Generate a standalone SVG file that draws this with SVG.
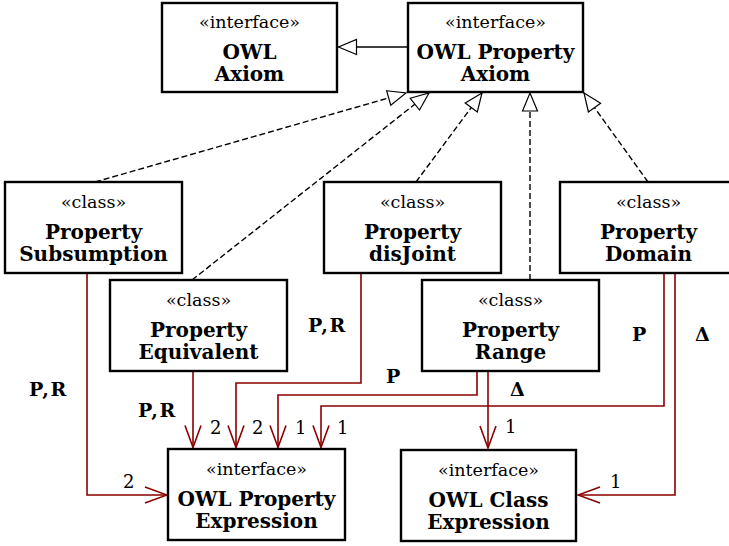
<svg xmlns="http://www.w3.org/2000/svg" width="729" height="546" viewBox="0 0 729 546">
<style>
  .box { fill: #ffffff; stroke: #000000; stroke-width: 2.4; }
  .st { font-family: "DejaVu Serif", "Liberation Serif", serif; font-size: 17.5px; text-anchor: middle; fill: #000; }
  .nm { font-family: "DejaVu Serif", "Liberation Serif", serif; font-size: 20px; font-weight: bold; text-anchor: middle; fill: #000; }
  .lb { font-family: "DejaVu Serif", "Liberation Serif", serif; font-size: 19px; font-weight: bold; letter-spacing: 1.5px; fill: #000; }
  .mu { font-family: "DejaVu Serif", "Liberation Serif", serif; font-size: 18px; fill: #000; }
  .dash { fill: none; stroke: #000; stroke-width: 1.4; stroke-dasharray: 6 3; marker-end: url(#tri); }
  .gen { fill: none; stroke: #000; stroke-width: 1.6; marker-end: url(#tri); }
  .red { fill: none; stroke: #8b0000; stroke-width: 1.6; marker-end: url(#vee); }
</style>
<defs>
  <marker id="tri" markerUnits="userSpaceOnUse" viewBox="-21 -10 23 20" refX="0" refY="0" markerWidth="23" markerHeight="20" orient="auto">
    <path d="M -18 -7.5 L 0 0 L -18 7.5 Z" fill="#fff" stroke="#000" stroke-width="1.2"/>
  </marker>
  <marker id="vee" markerUnits="userSpaceOnUse" viewBox="-24 -10 26 20" refX="0" refY="0" markerWidth="26" markerHeight="20" orient="auto">
    <path d="M -22 -8 L 0 0 L -22 8" fill="none" stroke="#8b0000" stroke-width="1.6"/>
  </marker>
</defs>

<g id="connectors">
  <path class="gen" d="M 408 47 L 338.5 47"/>
  <path class="dash" d="M 95 182 L 406 93"/>
  <path class="dash" d="M 192 280 L 429 93"/>
  <path class="dash" d="M 416 182 L 482 93"/>
  <path class="dash" d="M 530 280 L 530 93"/>
  <path class="dash" d="M 648 182 L 584 93"/>

  <path class="red" d="M 87 274 L 87 495 L 167 495"/>
  <path class="red" d="M 193 371 L 193 447.5"/>
  <path class="red" d="M 361 274 L 361 383 L 236 383 L 236 447.5"/>
  <path class="red" d="M 477 371 L 477 395 L 278 395 L 278 447.5"/>
  <path class="red" d="M 664 274 L 664 406 L 321 406 L 321 447.5"/>
  <path class="red" d="M 488 371 L 488 448"/>
  <path class="red" d="M 675 274 L 675 495 L 578 495"/>

  <text class="lb" x="29" y="396">P,R</text>
  <text class="lb" x="138" y="417">P,R</text>
  <text class="lb" x="308" y="332">P,R</text>
  <text class="lb" x="386" y="383">P</text>
  <text class="lb" x="510" y="396">Δ</text>
  <text class="lb" x="632" y="341">P</text>
  <text class="lb" x="695" y="341">Δ</text>

  <text class="mu" x="123" y="488">2</text>
  <text class="mu" x="210" y="434">2</text>
  <text class="mu" x="252" y="434">2</text>
  <text class="mu" x="295" y="434">1</text>
  <text class="mu" x="337" y="434">1</text>
  <text class="mu" x="505" y="433">1</text>
  <text class="mu" x="610" y="488">1</text>
</g>

<g id="owl-axiom">
  <rect class="box" x="162" y="3" width="175" height="89"/>
  <text class="st" x="249.5" y="28">«interface»</text>
  <text class="nm" x="249.5" y="59">OWL</text>
  <text class="nm" x="249.5" y="81">Axiom</text>
</g>
<g id="owl-property-axiom">
  <rect class="box" x="408" y="3" width="175" height="89"/>
  <text class="st" x="495.5" y="28">«interface»</text>
  <text class="nm" x="495.5" y="59">OWL Property</text>
  <text class="nm" x="495.5" y="81">Axiom</text>
</g>
<g id="property-subsumption">
  <rect class="box" x="5" y="182" width="177" height="91"/>
  <text class="st" x="93.5" y="208">«class»</text>
  <text class="nm" x="93.5" y="238.5">Property</text>
  <text class="nm" x="93.5" y="260.5">Subsumption</text>
</g>
<g id="property-disjoint">
  <rect class="box" x="324" y="182" width="177" height="91"/>
  <text class="st" x="412.5" y="208">«class»</text>
  <text class="nm" x="412.5" y="238.5">Property</text>
  <text class="nm" x="412.5" y="260.5">disJoint</text>
</g>
<g id="property-domain">
  <rect class="box" x="560" y="182" width="177" height="91"/>
  <text class="st" x="648.5" y="208">«class»</text>
  <text class="nm" x="648.5" y="238.5">Property</text>
  <text class="nm" x="648.5" y="260.5">Domain</text>
</g>
<g id="property-equivalent">
  <rect class="box" x="110" y="280" width="177" height="91"/>
  <text class="st" x="198.5" y="306">«class»</text>
  <text class="nm" x="198.5" y="336.5">Property</text>
  <text class="nm" x="198.5" y="358.5">Equivalent</text>
</g>
<g id="property-range">
  <rect class="box" x="422" y="280" width="177" height="91"/>
  <text class="st" x="510.5" y="306">«class»</text>
  <text class="nm" x="510.5" y="336.5">Property</text>
  <text class="nm" x="510.5" y="358.5">Range</text>
</g>
<g id="owl-property-expression">
  <rect class="box" x="168" y="449" width="177" height="91"/>
  <text class="st" x="256.5" y="475">«interface»</text>
  <text class="nm" x="256.5" y="505.5">OWL Property</text>
  <text class="nm" x="256.5" y="527.5">Expression</text>
</g>
<g id="owl-class-expression">
  <rect class="box" x="401" y="450" width="175" height="91"/>
  <text class="st" x="488.5" y="476">«interface»</text>
  <text class="nm" x="488.5" y="506.5">OWL Class</text>
  <text class="nm" x="488.5" y="528.5">Expression</text>
</g>
</svg>
